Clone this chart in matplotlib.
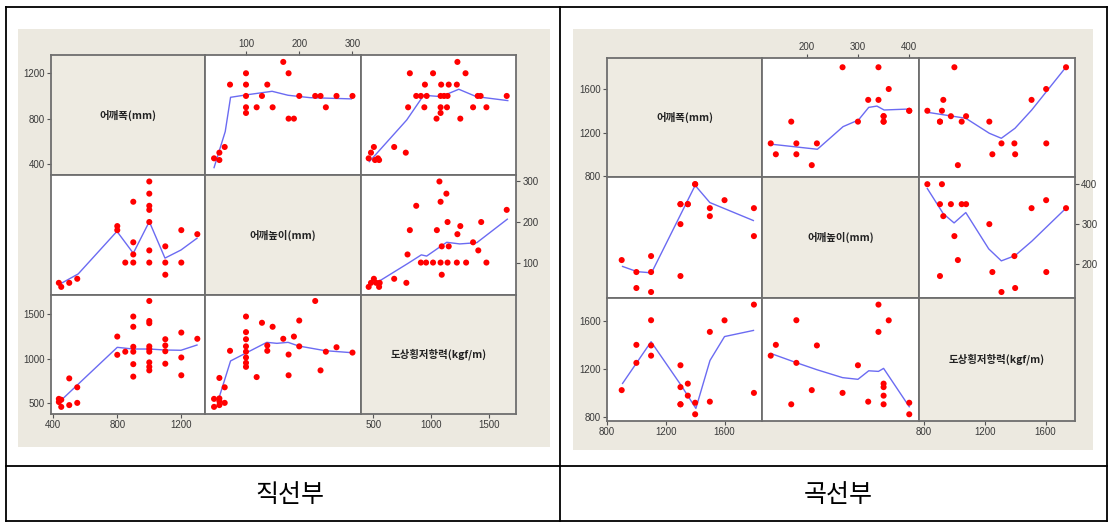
import matplotlib
matplotlib.use("Agg")
import matplotlib.pyplot as plt
from matplotlib.patches import Rectangle
from matplotlib.lines import Line2D

W, H = 1113, 526

VAR_NAMES = ["어깨폭(mm)", "어깨높이(mm)", "도상횡저항력(kgf/m)"]
CAPTIONS = ["직선부", "곡선부"]

# ---------------- left panel (직선부) ----------------
L_TICKS_WIDTH = [400, 800, 1200]
L_TICKS_HEIGHT = [100, 200, 300]
L_TICKS_RESIST = [500, 1000, 1500]

# pair: 어깨폭 vs 어깨높이
L_P12_WIDTH = [450, 500, 435, 550, 1100, 800, 800, 850, 900, 900, 900, 900, 1000, 1000, 1000,
               1000, 1000, 1000, 1000, 1100, 1100, 1200, 1200, 1300]
L_P12_HEIGHT = [40, 50, 50, 60, 70, 190, 180, 100, 250, 150, 120, 100, 300, 270, 240,
                230, 200, 130, 100, 140, 100, 180, 100, 170]
# pair: 어깨폭 vs 도상횡저항력
L_P13_WIDTH = [435, 435, 450, 450, 500, 500, 550, 550, 800, 800, 850, 900, 900, 900, 900, 900, 900,
               1000, 1000, 1000, 1000, 1000, 1000, 1000, 1000, 1000, 1100, 1100, 1100, 1100,
               1200, 1200, 1200, 1300]
L_P13_RESIST = [515, 550, 540, 460, 480, 780, 505, 680, 1250, 1045, 1080, 1475, 1360, 1135, 1080, 940, 800,
                1650, 1425, 1400, 1140, 1110, 1080, 960, 910, 870, 1220, 1150, 1085, 945,
                1295, 1015, 815, 1225]
# pair: 어깨높이 vs 도상횡저항력
L_P23_HEIGHT = [40, 40, 50, 50, 50, 50, 60, 60, 70, 100, 100, 100, 100, 100, 100, 100, 100,
                120, 130, 140, 140, 150, 170, 180, 180, 190, 200, 200, 230, 240, 250, 270, 300]
L_P23_RESIST = [460, 550, 480, 525, 555, 785, 505, 680, 1090, 1475, 1300, 1220, 1140, 1080, 1015, 955, 910,
                795, 1405, 1150, 1090, 1360, 1225, 1048, 815, 1250, 1430, 1140, 1650, 870, 1080, 1130, 1070]

# smoother lines (cell row r, col c): x = variable c, y = variable r
L_LINE12_X = [40, 61, 71, 100, 149, 179, 220, 298]
L_LINE12_Y = [368, 686, 988, 1009, 1041, 1006, 985, 974]
L_LINE13_X = [466, 788, 934, 1084, 1237, 1388, 1659]
L_LINE13_Y = [421, 788, 1006, 994, 1059, 994, 959]
L_LINE21_X = [442, 556, 798, 900, 1000, 1098, 1198, 1298]
L_LINE21_Y = [47, 72, 177, 123, 201, 111, 131, 160]
L_LINE23_X = [463, 567, 799, 914, 960, 1081, 1133, 1245, 1392, 1655]
L_LINE23_Y = [45, 57, 98, 119, 116, 140, 150, 146, 149, 207]
L_LINE31_X = [433, 462, 800, 900, 1000, 1098, 1198, 1298]
L_LINE31_Y = [530, 556, 1129, 1110, 1110, 1099, 1096, 1155]
L_LINE32_X = [50, 71, 139, 158, 179, 199, 248, 298]
L_LINE32_Y = [575, 976, 1185, 1174, 1185, 1144, 1092, 1069]

# ---------------- right panel (곡선부) ----------------
R_TICKS_WIDTH = [800, 1200, 1600]
R_TICKS_HEIGHT = [200, 300, 400]
R_TICKS_RESIST = [800, 1200, 1600]

R_WIDTH = [900, 1000, 1000, 1100, 1100, 1100, 1300, 1300, 1300, 1300, 1350, 1350, 1400, 1400,
           1500, 1500, 1600, 1800, 1800]
R_HEIGHT = [210, 180, 140, 130, 220, 180, 350, 350, 300, 170, 350, 350, 400, 400,
            320, 340, 360, 270, 340]
R_RESIST = [1023, 1250, 1400, 1310, 1395, 1605, 905, 1048, 1230, 905, 977, 1077, 822, 918,
            927, 1508, 1604, 1000, 1735]

R_LINE12_X = [132, 221, 271, 301, 321, 337, 351, 400]
R_LINE12_Y = [1092, 1046, 1254, 1315, 1431, 1443, 1407, 1416]
R_LINE13_X = [822, 905, 1075, 1230, 1309, 1399, 1509, 1735]
R_LINE13_Y = [1386, 1368, 1331, 1193, 1147, 1239, 1407, 1802]
R_LINE21_X = [906, 1005, 1103, 1400, 1500, 1796]
R_LINE21_Y = [194, 181, 178, 397, 354, 309]
R_LINE23_X = [822, 927, 998, 1075, 1226, 1309, 1399, 1509, 1735]
R_LINE23_Y = [389, 326, 303, 329, 238, 208, 221, 257, 340]
R_LINE31_X = [906, 1100, 1305, 1405, 1501, 1600, 1797]
R_LINE31_Y = [1079, 1426, 1062, 871, 1270, 1469, 1520]
R_LINE32_X = [131, 181, 220, 270, 300, 321, 340, 350, 400]
R_LINE32_Y = [1327, 1250, 1193, 1127, 1113, 1184, 1179, 1204, 885]

# ---------------- styling / layout ----------------
BEIGE = "#ECE9E0"
DIAG = "#EEEBE2"
GRID_EDGE = "#6E6E6E"
DOT = "#FF0000"
LINE = "#6B6BF2"
TICK_COLOR = "#3A3A3A"
KFONT = ["Noto Sans CJK KR", "DejaVu Sans"]

fig = plt.figure(figsize=(W / 100, H / 100), dpi=100)
fig.patch.set_facecolor("white")


def rect(x0, y0, x1, y1):
    return [x0 / W, 1 - y1 / H, (x1 - x0) / W, (y1 - y0) / H]


def draw_panel(colx, rowy, xlims, ylims, ticks, pairs, lines):
    for i in range(3):
        for j in range(3):
            ax = fig.add_axes(rect(colx[j], rowy[i], colx[j + 1], rowy[i + 1]))
            ax.set_xlim(*xlims[j])
            ax.set_ylim(*ylims[i])
            diag = i == j
            ax.set_facecolor(DIAG if diag else "white")
            for s in ax.spines.values():
                s.set_color(GRID_EDGE)
                s.set_linewidth(1.3)
            ax.set_xticks([])
            ax.set_yticks([])
            ax.tick_params(axis="both", length=3, width=0.8, color="#555555",
                           labelsize=7, labelcolor=TICK_COLOR, pad=1.5)
            if diag:
                ax.text(0.5, 0.5, VAR_NAMES[i], transform=ax.transAxes, ha="center",
                        va="center", fontsize=7.5, fontweight="bold", family=KFONT,
                        color="#222222")
            else:
                a, b = (i, j) if i < j else (j, i)
                va, vb = pairs[(a, b)]
                xs, ys = (vb, va) if i < j else (va, vb)
                lx, ly = lines[(i, j)]
                ax.plot(lx, ly, color=LINE, lw=1.0, zorder=2)
                ax.scatter(xs, ys, s=19, color=DOT, edgecolors="none", zorder=3)
            if j == 0 and i in (0, 2):
                ax.set_yticks(ticks[i])
                ax.yaxis.set_ticks_position("left")
            if j == 2 and i == 1:
                ax.set_yticks(ticks[i])
                ax.yaxis.set_ticks_position("right")
            if i == 2 and j in (0, 2):
                ax.set_xticks(ticks[j])
                ax.xaxis.set_ticks_position("bottom")
            if i == 0 and j == 1:
                ax.set_xticks(ticks[j])
                ax.xaxis.set_ticks_position("top")
            for lab in ax.get_xticklabels() + ax.get_yticklabels():
                lab.set_family("Liberation Sans")


# background beige frames
bg = fig.add_axes([0, 0, 1, 1], zorder=-5)
bg.set_xlim(0, W)
bg.set_ylim(H, 0)
bg.axis("off")
bg.add_patch(Rectangle((18, 29), 532, 418, facecolor=BEIGE, edgecolor="none"))
bg.add_patch(Rectangle((573, 29), 520, 421, facecolor=BEIGE, edgecolor="none"))

# table lines
for (x0, y0, x1, y1) in [(6, 7, 1107, 7), (6, 521, 1107, 521), (6, 7, 6, 521),
                         (1107, 7, 1107, 521), (560, 7, 560, 521), (6, 466, 1107, 466)]:
    bg.add_line(Line2D([x0, x1], [y0, y1], color="black", lw=1.3))

bg.text(290, 495, CAPTIONS[0], ha="center", va="center", fontsize=18, family=KFONT)
bg.text(838, 495, CAPTIONS[1], ha="center", va="center", fontsize=18, family=KFONT)

draw_panel(
    colx=[51, 205, 361, 516], rowy=[55, 175, 295, 414],
    xlims=[(386, 1348), (23, 316), (394, 1730)],
    ylims=[(303, 1361), (20, 316), (380, 1717)],
    ticks=[L_TICKS_WIDTH, L_TICKS_HEIGHT, L_TICKS_RESIST],
    pairs={(0, 1): (L_P12_WIDTH, L_P12_HEIGHT), (0, 2): (L_P13_WIDTH, L_P13_RESIST),
           (1, 2): (L_P23_HEIGHT, L_P23_RESIST)},
    lines={(0, 1): (L_LINE12_X, L_LINE12_Y), (0, 2): (L_LINE13_X, L_LINE13_Y),
           (1, 0): (L_LINE21_X, L_LINE21_Y), (1, 2): (L_LINE23_X, L_LINE23_Y),
           (2, 0): (L_LINE31_X, L_LINE31_Y), (2, 1): (L_LINE32_X, L_LINE32_Y)},
)

draw_panel(
    colx=[607, 762, 919, 1075], rowy=[58, 177, 298, 421],
    xlims=[(800, 1855), (113, 419), (767, 1794)],
    ylims=[(791, 1885), (115, 418), (766, 1790)],
    ticks=[R_TICKS_WIDTH, R_TICKS_HEIGHT, R_TICKS_RESIST],
    pairs={(0, 1): (R_WIDTH, R_HEIGHT), (0, 2): (R_WIDTH, R_RESIST),
           (1, 2): (R_HEIGHT, R_RESIST)},
    lines={(0, 1): (R_LINE12_X, R_LINE12_Y), (0, 2): (R_LINE13_X, R_LINE13_Y),
           (1, 0): (R_LINE21_X, R_LINE21_Y), (1, 2): (R_LINE23_X, R_LINE23_Y),
           (2, 0): (R_LINE31_X, R_LINE31_Y), (2, 1): (R_LINE32_X, R_LINE32_Y)},
)

fig.savefig("out.png", dpi=100)
